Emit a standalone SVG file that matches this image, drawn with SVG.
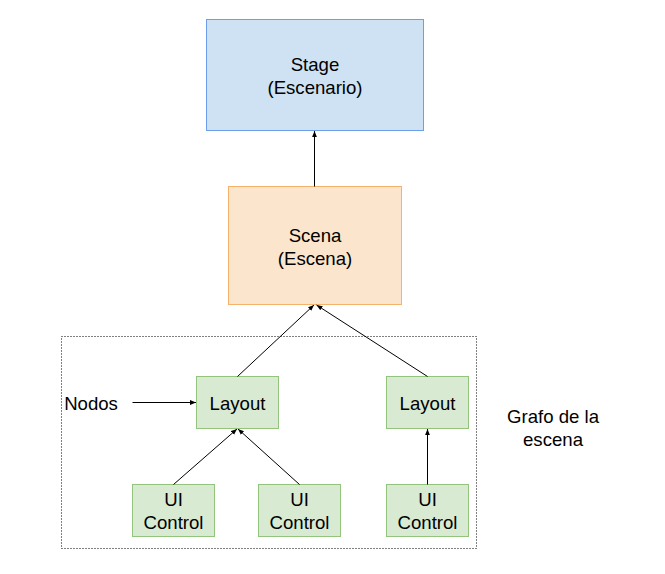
<svg xmlns="http://www.w3.org/2000/svg" width="665" height="574" viewBox="0 0 665 574">
<defs>
<style>
text{font-family:"Liberation Sans",Arial,sans-serif;font-size:18.6px;fill:#000;text-anchor:middle}
.blue{fill:#cfe2f3;stroke:#6d9eeb;stroke-width:1}
.orange{fill:#fce5cd;stroke:#f6b26b;stroke-width:1}
.green{fill:#d9ead3;stroke:#93c47d;stroke-width:1}
.conn line{stroke:#000;stroke-width:1;marker-end:url(#ah)}
</style>
<marker id="ah" viewBox="0 0 10 10" refX="10" refY="5" markerWidth="6" markerHeight="6" markerUnits="userSpaceOnUse" orient="auto">
<path d="M0,1 L10,5 L0,9 Z" fill="#000"/>
</marker>
</defs>
<rect width="665" height="574" fill="#fff"/>
<g id="scene-graph-group">
<rect x="61.5" y="336.5" width="415" height="212" fill="none" stroke="#000" stroke-width="1" stroke-dasharray="1,2"/>
</g>
<g id="stage">
<rect class="blue" x="206.5" y="19.5" width="217" height="111"/>
<text x="315" y="71">Stage</text>
<text x="315" y="93.5">(Escenario)</text>
</g>
<g id="scena">
<rect class="orange" x="228.5" y="186.5" width="173" height="118"/>
<text x="315" y="242">Scena</text>
<text x="315" y="264.5">(Escena)</text>
</g>
<g id="layout1">
<rect class="green" x="196.5" y="376.5" width="82" height="52"/>
<text x="237.5" y="409.5">Layout</text>
</g>
<g id="layout2">
<rect class="green" x="386.5" y="376.5" width="82" height="52"/>
<text x="427.5" y="409.5">Layout</text>
</g>
<g id="ui1">
<rect class="green" x="132.5" y="484.5" width="82" height="52"/>
<text x="173.5" y="506">UI</text>
<text x="173.5" y="528.5">Control</text>
</g>
<g id="ui2">
<rect class="green" x="258.5" y="484.5" width="82" height="52"/>
<text x="299.5" y="506">UI</text>
<text x="299.5" y="528.5">Control</text>
</g>
<g id="ui3">
<rect class="green" x="386.5" y="484.5" width="82" height="52"/>
<text x="427.5" y="506">UI</text>
<text x="427.5" y="528.5">Control</text>
</g>
<g id="nodos-label">
<text x="91" y="410">Nodos</text>
</g>
<g id="grafo-label">
<text x="553" y="423">Grafo de la</text>
<text x="553" y="445.5">escena</text>
</g>
<g id="connectors" class="conn">
<line x1="314.5" y1="186.5" x2="314.5" y2="131"/>
<line x1="237.5" y1="376.5" x2="314" y2="305"/>
<line x1="427.5" y1="376.5" x2="316.5" y2="305"/>
<line x1="173.5" y1="484.5" x2="237" y2="429"/>
<line x1="299.5" y1="484.5" x2="238" y2="429"/>
<line x1="427.5" y1="484.5" x2="427.5" y2="429"/>
<line x1="132.5" y1="402.5" x2="196" y2="402.5"/>
</g>
</svg>
